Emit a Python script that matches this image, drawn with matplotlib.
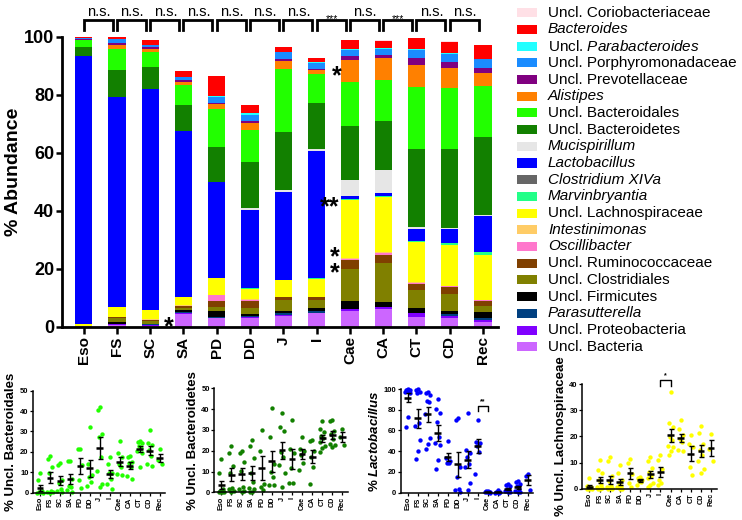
import numpy as np
import matplotlib
matplotlib.use('Agg')
import matplotlib.pyplot as plt
from matplotlib.patches import Rectangle

plt.rcParams['font.family'] = ['Liberation Sans', 'DejaVu Sans']
plt.rcParams['mathtext.fontset'] = 'custom'
plt.rcParams['mathtext.rm'] = 'Liberation Sans'
plt.rcParams['mathtext.it'] = 'Liberation Sans:italic'
plt.rcParams['mathtext.bf'] = 'Liberation Sans:bold'
plt.rcParams['mathtext.bfit'] = 'Liberation Sans:italic:bold'

# ---------------- data ----------------
sites = ['Eso', 'FS', 'SC', 'SA', 'PD', 'DD', 'J', 'I', 'Cae', 'CA', 'CT', 'CD', 'Rec']

# stacked composition (% abundance), bottom -> top
uncl_bacteria      = [0.1, 0.5, 0.4, 4.5, 2.9, 2.9, 3.7, 4.6, 5.4, 6.2, 3.2, 2.9, 1.7]
uncl_proteo        = [0.0, 0.3, 0.2, 0.2, 0.2, 0.4, 0.3, 0.2, 0.7, 0.6, 1.4, 0.9, 0.6]
parasutterella     = [0.0, 0.2, 0.2, 0.2, 0.3, 0.4, 0.6, 0.6, 0.1, 0.1, 0.2, 0.6, 0.6]
uncl_firmicutes    = [0.1, 0.5, 0.3, 0.8, 2.0, 0.7, 0.9, 0.9, 2.5, 1.6, 1.7, 1.1, 2.1]
uncl_clostridiales = [0.1, 1.4, 0.8, 0.8, 1.4, 2.1, 3.8, 2.8, 11.3, 13.3, 6.2, 5.9, 2.0]
uncl_rumino        = [0.0, 0.5, 0.5, 0.7, 2.1, 2.5, 0.9, 1.0, 3.0, 3.0, 2.1, 2.3, 1.7]
oscillibacter      = [0.0, 0.0, 0.0, 0.1, 2.0, 0.3, 0.1, 0.1, 0.5, 0.6, 0.4, 0.3, 0.4]
intestinimonas     = [0.0, 0.1, 0.1, 0.1, 0.2, 0.4, 0.1, 0.1, 0.2, 0.2, 0.2, 0.2, 0.2]
uncl_lachno        = [0.8, 3.4, 3.3, 2.9, 5.7, 3.4, 5.7, 6.3, 20.0, 19.2, 13.8, 14.1, 15.5]
marvinbryantia     = [0.0, 0.0, 0.0, 0.0, 0.1, 0.1, 0.1, 0.1, 0.4, 0.3, 0.3, 0.5, 0.8]
clostridium_xiva   = [0.0, 0.0, 0.0, 0.0, 0.0, 0.0, 0.0, 0.0, 0.1, 0.1, 0.0, 0.0, 0.0]
lactobacillus      = [92.4, 72.3, 76.1, 57.1, 33.1, 27.2, 30.2, 44.0, 1.0, 0.9, 4.3, 4.8, 12.6]
mucispirillum      = [0.0, 0.0, 0.0, 0.0, 0.0, 0.5, 0.7, 0.6, 5.5, 7.8, 0.6, 0.6, 0.2]
uncl_bacteroidetes = [3.1, 9.3, 7.5, 9.2, 11.8, 15.9, 19.9, 16.0, 18.4, 17.1, 26.8, 27.0, 27.1]
uncl_bacteroidales = [2.1, 7.4, 5.4, 6.9, 13.3, 11.1, 21.7, 9.8, 15.2, 14.0, 21.5, 21.0, 17.4]
alistipes          = [0.3, 1.4, 1.0, 1.0, 1.6, 2.4, 2.9, 1.5, 7.6, 7.7, 7.5, 6.9, 4.7]
uncl_prevotella    = [0.3, 0.7, 0.7, 0.6, 0.6, 0.8, 0.7, 0.4, 1.4, 1.1, 2.3, 2.1, 1.7]
uncl_porphyro      = [0.3, 1.1, 0.7, 0.9, 2.0, 2.0, 2.3, 2.1, 2.2, 2.0, 3.0, 2.9, 2.9]
uncl_parabact      = [0.0, 0.1, 0.1, 0.1, 0.3, 0.6, 0.2, 0.1, 0.3, 0.2, 0.2, 0.2, 0.2]
bacteroides        = [0.3, 0.8, 1.4, 2.0, 6.9, 2.6, 1.7, 1.3, 2.9, 2.6, 3.8, 4.0, 4.6]
uncl_corio         = [0.1, 0.1, 0.0, 0.1, 0.1, 0.1, 0.1, 0.1, 0.1, 0.1, 0.1, 0.1, 0.1]

sig_labels = ['n.s.', 'n.s.', 'n.s.', 'n.s.', 'n.s.', 'n.s.', 'n.s.', '***', 'n.s.', '***', 'n.s.', 'n.s.']

# individual animal values for the four small panels
bacteroidales_pts = [
    [9.8, 6.2, 1.0, 0.5, 0.2, 0.0, 0.0],
    [18.0, 16.7, 12.7, 9.5, 1.0, 0.5, 0.3, 0.0],
    [14.4, 13.7, 6.0, 4.6, 1.6, 1.0, 0.3],
    [15.7, 15.4, 6.5, 3.4, 2.9, 1.3, 0.3],
    [21.6, 21.2, 13.5, 6.2, 2.1],
    [32.4, 13.9, 8.7, 7.5, 5.4, 3.3],
    [42.2, 40.5, 28.6, 27.5, 17.6, 10.8, 4.2, 2.8],
    [17.3, 14.0, 9.8, 9.5, 6.5, 4.2, 2.0],
    [25.2, 19.6, 17.3, 14.0, 12.7, 9.2, 8.8],
    [18.0, 17.3, 15.0, 14.4, 12.7, 8.3, 6.5],
    [25.5, 24.8, 24.5, 22.9, 21.9, 20.3, 19.3, 12.7],
    [30.7, 24.5, 23.2, 20.9, 18.0, 14.0, 13.0],
    [21.2, 16.0, 14.0],
]
bacteroidetes_pts = [
    [15.9, 9.5, 1.8, 0.8, 0.2, 0.0, 0.0, 0.0],
    [22.3, 18.8, 12.7, 9.5, 2.1, 1.4, 0.8, 0.3],
    [20.0, 18.8, 14.7, 10.1, 2.7, 1.8, 0.8, 0.3],
    [25.2, 22.3, 16.5, 9.5, 5.0, 2.1, 1.4, 0.3, 0.0],
    [30.0, 19.9, 4.0, 2.7, 1.1],
    [40.4, 26.4, 13.6, 9.9, 7.2, 3.4, 3.4],
    [38.3, 31.3, 29.6, 19.4, 17.1, 13.3, 9.1, 2.7],
    [34.8, 21.0, 18.8, 11.7, 4.6, 4.3],
    [26.8, 21.0, 19.7, 18.1, 13.9, 10.7],
    [25.2, 24.7, 19.7, 17.1, 12.3, 4.0],
    [34.2, 30.5, 29.0, 27.0, 26.0, 24.0, 22.5, 21.3, 19.4],
    [34.8, 34.1, 29.6, 28.0, 25.8, 23.2, 22.6, 21.6],
    [30.6, 26.8, 22.6],
]
lactobacillus_pts = [
    [99.7, 99.5, 99.0, 99.0, 98.4, 97.4, 96.0, 72.7, 63.0],
    [99.7, 99.0, 97.4, 95.8, 66.9, 64.3, 50.8, 40.5, 32.2],
    [97.4, 95.8, 94.2, 88.1, 87.8, 75.9, 52.4, 46.9, 41.8],
    [90.0, 80.4, 76.5, 68.2, 54.0, 47.6, 45.7, 31.5, 22.5],
    [50.2, 33.4, 30.9, 28.9, 28.3],
    [72.5, 70.0, 25.0, 15.0, 4.0, 3.0, 1.0],
    [76.5, 41.2, 37.9, 34.7, 27.7, 24.4, 9.6, 2.6],
    [70.1, 49.2, 47.6, 45.0, 39.5, 18.0],
    [2.0, 1.5, 1.0, 0.5, 0.3, 0.2, 0.0],
    [2.5, 1.0, 0.5, 0.2, 0.1, 0.0],
    [8.0, 7.0, 6.0, 4.0, 2.0, 1.5, 1.0, 0.5],
    [11.5, 10.0, 8.0, 6.0, 4.0, 2.0, 1.0, 0.5],
    [18.5, 16.0, 3.0],
]
lachno_pts = [
    [4.0, 1.2, 0.5, 0.3, 0.1, 0.0, 0.0, 0.0],
    [11.0, 7.0, 6.0, 3.3, 1.3, 0.8, 0.3, 0.0, 0.0],
    [12.0, 10.5, 5.0, 3.0, 1.0, 0.5, 0.3, 0.2, 0.0, 0.0],
    [9.0, 6.0, 3.3, 2.0, 1.0, 0.5, 0.0, 0.0],
    [11.5, 10.0, 5.5, 2.0, 0.5],
    [4.5, 4.0, 3.5, 3.0, 2.5, 1.5],
    [12.0, 10.5, 8.0, 6.5, 5.0, 4.0, 2.0, 1.3, 0.5],
    [12.8, 11.0, 7.7, 3.3, 2.3, 1.3],
    [37.1, 25.3, 23.5, 19.9, 18.7, 16.4, 15.8, 14.6, 12.8],
    [26.3, 23.0, 20.7, 19.2, 17.9, 14.8, 14.3],
    [20.7, 17.1, 15.8, 8.4, 5.4],
    [24.0, 21.5, 17.1, 14.8, 12.8, 10.7, 7.7, 5.9],
    [21.0, 15.1, 10.5],
]

# ---------------- styling ----------------
stack_values = [uncl_bacteria, uncl_proteo, parasutterella, uncl_firmicutes, uncl_clostridiales,
                uncl_rumino, oscillibacter, intestinimonas, uncl_lachno, marvinbryantia,
                clostridium_xiva, lactobacillus, mucispirillum, uncl_bacteroidetes,
                uncl_bacteroidales, alistipes, uncl_prevotella, uncl_porphyro, uncl_parabact,
                bacteroides, uncl_corio]
stack_labels = ['Uncl. Bacteria', 'Uncl. Proteobacteria', 'Parasutterella', 'Uncl. Firmicutes',
                'Uncl. Clostridiales', 'Uncl. Ruminococcaceae', 'Oscillibacter', 'Intestinimonas',
                'Uncl. Lachnospiraceae', 'Marvinbryantia', 'Clostridium XIVa', 'Lactobacillus',
                'Mucispirillum', 'Uncl. Bacteroidetes', 'Uncl. Bacteroidales', 'Alistipes',
                'Uncl. Prevotellaceae', 'Uncl. Porphyromonadaceae', r'Uncl. $\mathit{Parabacteroides}$',
                'Bacteroides', 'Uncl. Coriobacteriaceae']
stack_italic = [False, False, True, False, False, False, True, True, False, True, True, True,
                True, False, False, True, False, False, False, True, False]
stack_colors = ['#CC66FF', '#8000FF', '#004080', '#000000', '#808000', '#804000', '#FF77CC',
                '#FFCC66', '#FFFF00', '#22FF88', '#666666', '#0000FF', '#E6E6E6', '#128000',
                '#22FF00', '#FF8000', '#800080', '#1A8CFF', '#22FFFF', '#FF0000', '#FFE0E6']

W, H = 742, 520
fig = plt.figure(figsize=(W / 100, H / 100), dpi=100)


def fx(px):
    return px / W


def fy(py):
    return 1 - py / H


# ---------------- main stacked bar chart ----------------
ax = fig.add_axes([fx(62), fy(326.7), fx(498) - fx(62), fy(36.7) - fy(326.7)])
x = np.arange(len(sites))
bottom = np.zeros(len(sites))
for vals, col in zip(stack_values, stack_colors):
    v = np.asarray(vals, dtype=float)
    ax.bar(x, v, width=0.52, bottom=bottom, color=col, linewidth=0)
    bottom += v

ax.set_xlim(-0.65, 12.45)
ax.set_ylim(0, 100)
ax.set_yticks([0, 20, 40, 60, 80, 100])
ax.set_xticks(x)
ax.set_xticklabels(sites, rotation=90, fontsize=11, fontweight='bold')
for lab in ax.get_yticklabels():
    lab.set_fontweight('bold')
    lab.set_fontsize(13)
ax.tick_params(axis='y', length=4, width=1.8, pad=1.5)
ax.tick_params(axis='x', length=5, width=1.8, pad=2)
for s in ['top', 'right']:
    ax.spines[s].set_visible(False)
for s in ['left', 'bottom']:
    ax.spines[s].set_linewidth(2)
ax.set_ylabel('% Abundance', fontsize=14, fontweight='bold')
ax.yaxis.set_label_coords(-0.092, 0.535)

# significance brackets on top
for i, lab in enumerate(sig_labels):
    x0, x1 = i, i + 0.87
    ax.plot([x0, x0, x1, x1], [102.3, 105.8, 105.8, 102.3], color='black', lw=2,
            clip_on=False, solid_joinstyle='miter')
    if lab == 'n.s.':
        ax.text((x0 + x1) / 2 + 0.02, 107.3, lab, ha='center', va='baseline', fontsize=10.5)
    else:
        ax.text((x0 + x1) / 2 + 0.02, 105.2, lab, ha='center', va='baseline', fontsize=7.5)

# asterisks inside the bar chart
star_marks = [(2.57, 2.3, '*'), (7.6, 88.9, '*'), (7.4, 43.7, '**')]
for sx, sy, st in star_marks:
    ax.text(sx, sy - 5.0, st, ha='center', va='baseline', fontsize=18, fontweight='bold',
            clip_on=False)
# two stacked asterisks (one text object so they do not collide)
ax.text(7.55, 28.0, '*\n*', ha='center', va='top', fontsize=18, fontweight='bold',
        linespacing=0.58, clip_on=False)

# ---------------- legend (drawn manually to match spacing) ----------------
for k, idx in enumerate(range(len(stack_labels) - 1, -1, -1)):
    yc = 12.7 + k * 16.7
    fig.patches.append(Rectangle((fx(517), fy(yc + 4.5)), fx(20), 9 / H,
                                 transform=fig.transFigure, facecolor=stack_colors[idx],
                                 edgecolor='none'))
    fig.text(fx(548), fy(yc), stack_labels[idx], ha='left', va='center', fontsize=11,
             fontstyle='italic' if stack_italic[idx] else 'normal')


# ---------------- small scatter panels ----------------
def panel(left, right, bottom_px, top_px, pts, color, ymax, ystep, ylabel):
    a = fig.add_axes([fx(left), fy(bottom_px), fx(right) - fx(left), fy(top_px) - fy(bottom_px)])
    pattern = np.array([0.0, -0.2, 0.2, -0.1, 0.1, -0.26, 0.26])
    for i, vals in enumerate(pts):
        v = np.asarray(vals, dtype=float)
        order = np.argsort(-v)
        offs = np.empty(len(v))
        offs[order] = pattern[np.arange(len(v)) % len(pattern)]
        a.scatter(i + offs, v, s=10, color=color, linewidths=0, zorder=2, clip_on=False)
        m = v.mean()
        se = v.std(ddof=1) / np.sqrt(len(v))
        a.errorbar(i, m, yerr=se, color='black', lw=1, capsize=1.8, capthick=1, zorder=3)
        a.hlines(m, i - 0.33, i + 0.33, color='black', lw=1.8, zorder=4)
    a.set_xlim(-0.7, 12.55)
    a.set_ylim(0, ymax)
    a.set_yticks(np.arange(0, ymax + 0.1, ystep))
    a.set_xticks(np.arange(len(sites)))
    a.set_xticklabels(sites, rotation=90, fontsize=5.2, fontweight='bold')
    for lab in a.get_yticklabels():
        lab.set_fontweight('bold')
        lab.set_fontsize(5.5)
    a.tick_params(axis='both', length=2, width=0.9, pad=1.2)
    for s in ['top', 'right']:
        a.spines[s].set_visible(False)
    for s in ['left', 'bottom']:
        a.spines[s].set_linewidth(1.1)
    a.set_ylabel(ylabel, fontsize=9.5, fontweight='bold', labelpad=2)
    return a


panel(33, 165, 492.7, 390.7, bacteroidales_pts, '#22FF00', 50, 10, '% Uncl. Bacteroidales')
panel(214.3, 348, 492.3, 388.3, bacteroidetes_pts, '#128000', 50, 10, '% Uncl. Bacteroidetes')
a3 = panel(400.7, 533, 492.7, 389, lactobacillus_pts, '#0000FF', 100, 20,
           r'% $\mathbfit{Lactobacillus}$')
a4 = panel(582.3, 716.7, 488.7, 384.3, lachno_pts, '#FFFF00', 40, 10, '% Uncl. Lachnospiraceae')

a3.plot([7, 7, 8, 8], [79, 84, 84, 79], color='black', lw=1, clip_on=False)
a3.text(7.5, 84.5, '**', ha='center', va='bottom', fontsize=5, fontweight='bold')
a4.plot([7, 7, 8, 8], [39.5, 41.8, 41.8, 39.5], color='black', lw=1, clip_on=False)
a4.text(7.5, 42.0, '*', ha='center', va='bottom', fontsize=5, fontweight='bold', clip_on=False)

fig.savefig('out.png', dpi=100)
